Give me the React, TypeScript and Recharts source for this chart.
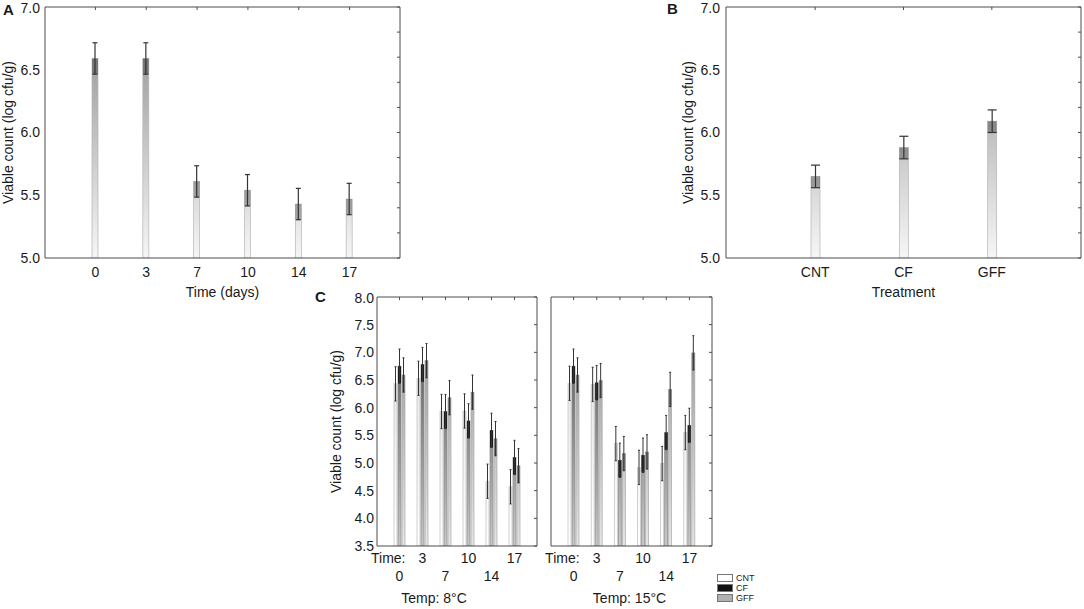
import React from 'react';
import { BarChart, Bar, XAxis, YAxis, ErrorBar } from 'recharts';

// panel A: viable count over storage time
const timeDays = ['0', '3', '7', '10', '14', '17'];
const timeMeans = [6.59, 6.59, 5.61, 5.54, 5.43, 5.47];
const timeErrors = [0.125, 0.125, 0.125, 0.125, 0.125, 0.125];

// panel B: viable count per treatment
const treatments = ['CNT', 'CF', 'GFF'];
const treatmentMeans = [5.65, 5.88, 6.09];
const treatmentErrors = [0.09, 0.09, 0.09];

// panel C: treatment x time, two storage temperatures
const cnt8 = [6.43, 6.53, 5.93, 5.94, 4.67, 4.57];
const cf8 = [6.75, 6.78, 5.93, 5.76, 5.59, 5.1];
const gff8 = [6.59, 6.85, 6.18, 6.28, 5.44, 4.95];
const cnt15 = [6.44, 6.42, 5.35, 4.92, 4.99, 5.55];
const cf15 = [6.75, 6.45, 5.05, 5.14, 5.55, 5.68];
const gff15 = [6.59, 6.49, 5.17, 5.2, 6.33, 6.99];
const storageErrors = [0.31, 0.31, 0.31, 0.31, 0.31, 0.31];

const ticksAB = [5, 5.5, 6, 6.5, 7];
const minorTicksAB = [5, 5.2, 5.4, 5.6, 5.8, 6, 6.2, 6.4, 6.6, 6.8, 7];
const ticksC = [3.5, 4, 4.5, 5, 5.5, 6, 6.5, 7, 7.5, 8];

const AXIS = '#4d4d4d';
const TEXT = '#1a1a1a';
const FONT = '"Liberation Sans", Arial, sans-serif';
const fmt = (v: number) => v.toFixed(1);
const blank = () => '';

const dataA = timeDays.map((day, i) => ({ day, mean: timeMeans[i], err: timeErrors[i] }));
const dataB = treatments.map((t, i) => ({ t, mean: treatmentMeans[i], err: treatmentErrors[i] }));
const buildC = (cnt: number[], cf: number[], gff: number[]) =>
  timeDays.map((day, i) => ({
    day,
    CNT: cnt[i],
    CF: cf[i],
    GFF: gff[i],
    errCNT: storageErrors[i],
    errCF: storageErrors[i],
    errGFF: storageErrors[i],
  }));
const data8 = buildC(cnt8, cf8, gff8);
const data15 = buildC(cnt15, cf15, gff15);

type BarLook = { top: string; bottom: string; stroke: string; box: string; boxOpacity: number };

const greyLook: BarLook = { top: '#8a8a8a', bottom: '#f6f6f6', stroke: '#b5b5b5', box: '#000', boxOpacity: 0.28 };
const seriesLook: Record<string, BarLook> = {
  CNT: { top: '#dedede', bottom: '#ffffff', stroke: '#bdbdbd', box: '#cfcfcf', boxOpacity: 1 },
  CF: { top: '#444444', bottom: '#c8c8c8', stroke: '#8a8a8a', box: '#1e1e1e', boxOpacity: 1 },
  GFF: { top: '#8c8c8c', bottom: '#e6e6e6', stroke: '#a8a8a8', box: '#7d7d7d', boxOpacity: 1 },
};
const legendSwatch: Record<string, string> = { CNT: '#ffffff', CF: '#111111', GFF: '#b0b0b0' };

const Grad = ({ id, look, y1, y2 }: { id: string; look: BarLook; y1: number; y2: number }) => (
  <linearGradient id={id} gradientUnits="userSpaceOnUse" x1={0} x2={0} y1={y1} y2={y2}>
    <stop offset="0%" stopColor={look.top} />
    <stop offset="100%" stopColor={look.bottom} />
  </linearGradient>
);

// bar with a darker box from the top down to the lower error limit
const boxedBar = (key: string, errKey: string, look: BarLook, gradId: string, base: number) =>
  (props: any) => {
    const { x, y, width, height, payload } = props;
    if (!(height > 0)) return <g />;
    const unit = height / (payload[key] - base);
    const boxH = Math.min(height, payload[errKey] * unit);
    return (
      <g>
        <rect x={x} y={y} width={width} height={height} fill={`url(#${gradId})`} stroke={look.stroke} strokeWidth={0.7} />
        <rect x={x} y={y} width={width} height={boxH} fill={look.box} fillOpacity={look.boxOpacity} />
      </g>
    );
  };

const tickStyle = { fill: TEXT, fontSize: 14 };
const yTitle = (offset: number) => ({
  value: 'Viable count (log cfu/g)',
  angle: -90,
  position: 'insideLeft' as const,
  offset,
  fill: TEXT,
  fontSize: 14,
  style: { textAnchor: 'middle' as const },
});

const StaggeredTick = (props: any) => {
  const { x, y, payload, index } = props;
  const dy = index % 2 === 1 ? 17 : 35;
  return (
    <g>
      {index === 0 && (
        <text x={x + 6} y={y + 17} textAnchor="end" fill={TEXT} fontSize={14}>
          Time:
        </text>
      )}
      <text x={x} y={y + dy} textAnchor="middle" fill={TEXT} fontSize={14}>
        {payload.value}
      </text>
    </g>
  );
};

const PanelA = () => (
  <BarChart width={410} height={300} data={dataA} margin={{ top: 7, right: 10, left: 0, bottom: 0 }}>
    <defs>
      <Grad id="gradA" look={greyLook} y1={7} y2={258} />
    </defs>
    <XAxis dataKey="day" height={42} padding={{ left: 25, right: 25 }} tick={tickStyle} tickLine={false}
      tickSize={6} tickMargin={3} axisLine={{ stroke: AXIS }}
      label={{ value: 'Time (days)', position: 'insideBottom', offset: 3, fill: TEXT, fontSize: 14 }} />
    <XAxis xAxisId="top" orientation="top" dataKey="day" mirror height={1} tickFormatter={blank} tickSize={3}
      padding={{ left: 25, right: 25 }} axisLine={{ stroke: AXIS }} tickLine={{ stroke: AXIS }} />
    <YAxis type="number" domain={[5, 7]} allowDataOverflow ticks={ticksAB} tickFormatter={fmt} width={45}
      tick={tickStyle} tickLine={false} tickSize={0} tickMargin={5} axisLine={{ stroke: AXIS }} label={yTitle(8)} />
    <YAxis yAxisId="right" orientation="right" type="number" domain={[5, 7]} allowDataOverflow ticks={minorTicksAB}
      mirror width={1} tickFormatter={blank} tickSize={3} axisLine={{ stroke: AXIS }} tickLine={{ stroke: AXIS }} />
    <Bar dataKey="mean" barSize={6} isAnimationActive={false} shape={boxedBar('mean', 'err', greyLook, 'gradA', 5)}>
      <ErrorBar dataKey="err" width={2.5} stroke="#333" strokeWidth={1.2} direction="y" />
    </Bar>
  </BarChart>
);

const PanelB = () => (
  <BarChart width={404} height={300} data={dataB} margin={{ top: 7, right: 3, left: 0, bottom: 0 }}>
    <defs>
      <Grad id="gradB" look={greyLook} y1={7} y2={258} />
    </defs>
    <XAxis dataKey="t" height={42} padding={{ left: 45, right: 45 }} tick={tickStyle} tickLine={false}
      tickSize={6} tickMargin={3} axisLine={{ stroke: AXIS }}
      label={{ value: 'Treatment', position: 'insideBottom', offset: 3, fill: TEXT, fontSize: 14 }} />
    <XAxis xAxisId="top" orientation="top" dataKey="t" mirror height={1} tickFormatter={blank} tickSize={3}
      padding={{ left: 45, right: 45 }} axisLine={{ stroke: AXIS }} tickLine={{ stroke: AXIS }} />
    <YAxis type="number" domain={[5, 7]} allowDataOverflow ticks={ticksAB} tickFormatter={fmt} width={46}
      tick={tickStyle} tickLine={false} tickSize={0} tickMargin={6} axisLine={{ stroke: AXIS }} label={yTitle(8)} />
    <YAxis yAxisId="right" orientation="right" type="number" domain={[5, 7]} allowDataOverflow ticks={minorTicksAB}
      mirror width={1} tickFormatter={blank} tickSize={3} axisLine={{ stroke: AXIS }} tickLine={{ stroke: AXIS }} />
    <Bar dataKey="mean" barSize={9} isAnimationActive={false} shape={boxedBar('mean', 'err', greyLook, 'gradB', 5)}>
      <ErrorBar dataKey="err" width={4.5} stroke="#333" strokeWidth={1.2} direction="y" />
    </Bar>
  </BarChart>
);

const PanelC = ({ data, temp, id, showAxis, dx }: { data: any[]; temp: string; id: string; showAxis: boolean; dx: number }) => (
  <BarChart width={showAxis ? 220 : 170} height={319} data={data} barSize={3} barGap={1}
    margin={{ top: 7, right: 3, left: 0, bottom: 0 }}>
    <defs>
      {treatments.map((s) => (
        <Grad key={s} id={`${id}-${s}`} look={seriesLook[s]} y1={7} y2={256} />
      ))}
    </defs>
    <XAxis dataKey="day" height={63} padding={{ left: 11, right: 11 }} interval={0} tick={<StaggeredTick />}
      tickLine={false} tickSize={0} tickMargin={0} axisLine={{ stroke: AXIS }}
      label={{ value: temp, position: 'insideBottom', offset: 6, dx, fill: TEXT, fontSize: 14 }} />
    <XAxis xAxisId="top" orientation="top" dataKey="day" mirror height={1} tickFormatter={blank} tickSize={3}
      padding={{ left: 11, right: 11 }} axisLine={{ stroke: AXIS }} tickLine={{ stroke: AXIS }} />
    {showAxis ? (
      <YAxis type="number" domain={[3.5, 8]} allowDataOverflow ticks={ticksC} tickFormatter={fmt} width={57}
        tick={tickStyle} tickLine={false} tickSize={0} tickMargin={3} axisLine={{ stroke: AXIS }} label={yTitle(16)} />
    ) : (
      <YAxis type="number" domain={[3.5, 8]} allowDataOverflow ticks={ticksC} width={6} tick={false}
        tickLine={false} tickSize={0} axisLine={{ stroke: AXIS }} />
    )}
    <YAxis yAxisId="right" orientation="right" type="number" domain={[3.5, 8]} allowDataOverflow ticks={ticksC}
      mirror width={1} tickFormatter={blank} tickSize={3} axisLine={{ stroke: AXIS }} tickLine={{ stroke: AXIS }} />
    {treatments.map((s) => (
      <Bar key={s} dataKey={s} isAnimationActive={false}
        shape={boxedBar(s, `err${s}`, seriesLook[s], `${id}-${s}`, 3.5)}>
        <ErrorBar dataKey={`err${s}`} width={1} stroke="#333" strokeWidth={1} direction="y" />
      </Bar>
    ))}
  </BarChart>
);

const Legend = () => (
  <div style={{ position: 'absolute', left: 717, top: 573, fontSize: 9, color: TEXT, lineHeight: '10px' }}>
    {treatments.map((s) => (
      <div key={s} style={{ display: 'flex', alignItems: 'center', height: 10 }}>
        <span style={{ display: 'inline-block', width: 14, height: 6, background: legendSwatch[s], border: '1px solid #777', marginRight: 3 }} />
        {s}
      </div>
    ))}
  </div>
);

export default function App() {
  return (
    <div style={{ position: 'absolute', left: 0, top: 0, width: 1084, height: 609, background: '#fff', fontFamily: FONT }}>
      <div style={{ position: 'absolute', left: 0, top: 0 }}><PanelA /></div>
      <div style={{ position: 'absolute', left: 680, top: 0 }}><PanelB /></div>
      <div style={{ position: 'absolute', left: 320, top: 290 }}>
        <PanelC data={data8} temp="Temp: 8°C" id="c8" showAxis dx={-23} />
      </div>
      <div style={{ position: 'absolute', left: 545, top: 290 }}>
        <PanelC data={data15} temp="Temp: 15°C" id="c15" showAxis={false} dx={-2} />
      </div>
      <Legend />
      <svg width={1084} height={609} style={{ position: 'absolute', left: 0, top: 0, pointerEvents: 'none' }}>
        <text x={3} y={15} fontSize={15} fontWeight="bold" fill={TEXT}>A</text>
        <text x={667} y={14} fontSize={15} fontWeight="bold" fill={TEXT}>B</text>
        <text x={315} y={302} fontSize={15} fontWeight="bold" fill={TEXT}>C</text>
      </svg>
    </div>
  );
}
